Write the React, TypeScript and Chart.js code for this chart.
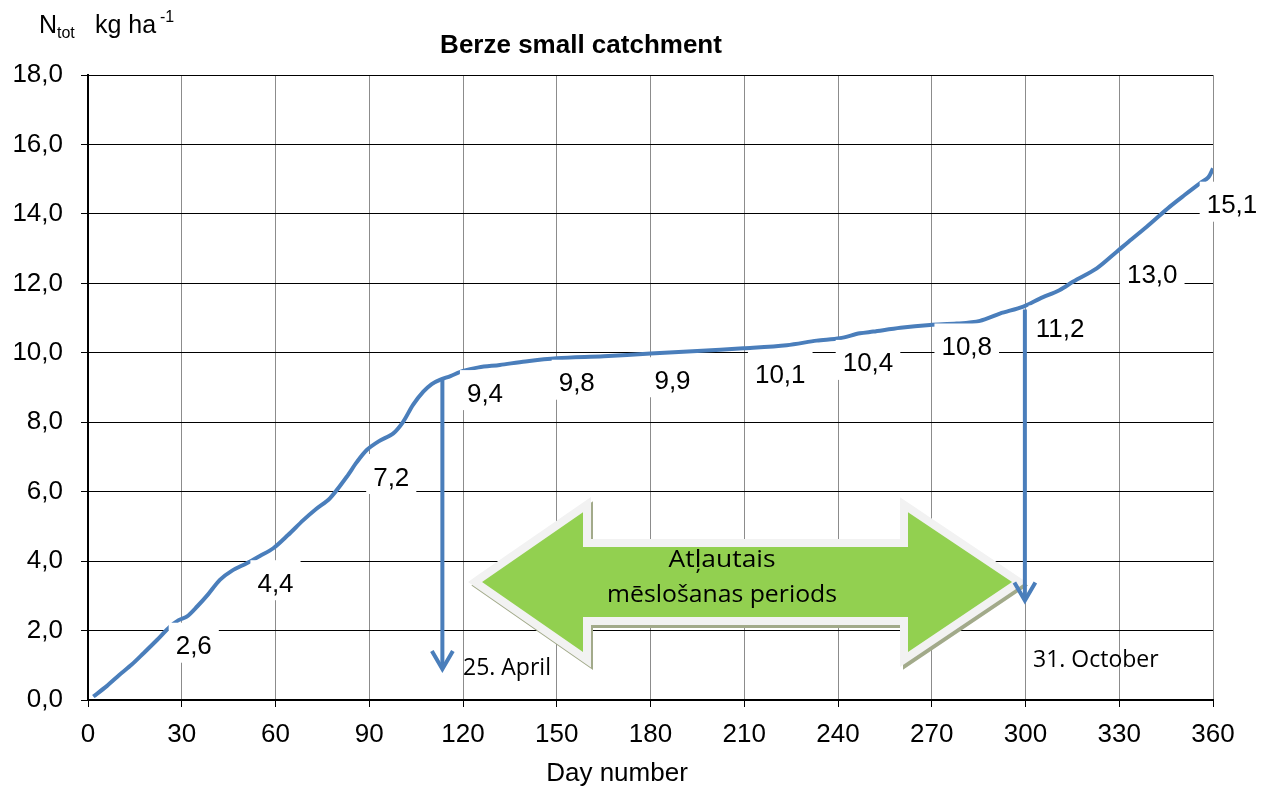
import React, { useEffect, useRef } from 'react';
import { Chart, registerables } from 'chart.js';

Chart.register(...registerables);

// ---- data ----
const DAYS = [1.7, 6, 10, 14, 17.7, 22, 26.2, 29, 31.6, 35, 38.5, 42.2, 46, 50.8, 55, 59.3, 64, 68.9, 73, 77.4, 82.8, 86, 89.2, 93, 97.7, 100.9, 104, 107.3, 110, 112.6, 116, 120, 125, 131.8, 140, 150, 165, 180, 195, 209.7, 223.6, 233.2, 240.6, 247, 251.3, 260, 269.4, 278, 285.4, 291.8, 299.3, 304.6, 311, 315.3, 322.8, 329.2, 333, 338.8, 346.2, 351, 355.8, 358.5, 360];
const NTOT = [0.10, 0.40, 0.72, 1.02, 1.34, 1.72, 2.11, 2.30, 2.40, 2.70, 3.05, 3.46, 3.72, 3.94, 4.15, 4.37, 4.75, 5.18, 5.50, 5.81, 6.43, 6.85, 7.20, 7.45, 7.68, 8.02, 8.50, 8.88, 9.10, 9.22, 9.33, 9.48, 9.58, 9.65, 9.75, 9.84, 9.90, 9.98, 10.05, 10.13, 10.22, 10.35, 10.42, 10.56, 10.61, 10.72, 10.80, 10.84, 10.92, 11.13, 11.33, 11.56, 11.81, 12.05, 12.43, 12.91, 13.20, 13.63, 14.21, 14.55, 14.88, 15.05, 15.31];

const LABEL_DAYS = [30, 60, 90, 120, 150, 180, 210, 240, 270, 300, 330, 360];
const LABEL_VALUES = [2.6, 4.4, 7.2, 9.4, 9.8, 9.9, 10.1, 10.4, 10.8, 11.2, 13.0, 15.1];

const X_MIN = 0, X_MAX = 360, X_STEP = 30;
const Y_MIN = 0, Y_MAX = 18, Y_STEP = 2;

const TITLE = 'Berze small catchment';
const X_TITLE = 'Day number';
const PERIOD_TEXT = ['Atļautais', 'mēslošanas periods'];
const START_TEXT = '25. April';
const END_TEXT = '31. October';

// arrows (day, from value, to value)
const START_DAY = 113.4, START_FROM = 9.22, START_TO = 0.78;
const END_DAY = 299.8, END_FROM = 11.25, END_TO = 2.75;
const START_TEXT_POS = [120, 0.72];
const END_TEXT_POS = [302.4, 0.96];

// green double arrow (days / values)
const PERIOD_TIP_L = 126.1, PERIOD_BASE_L = 158.4, PERIOD_BASE_R = 262.4, PERIOD_TIP_R = 295.7;
const PERIOD_MID = 3.4, PERIOD_HEAD_TOP = 5.41, PERIOD_HEAD_BOT = 1.38, PERIOD_SHAFT_TOP = 4.41, PERIOD_SHAFT_BOT = 2.39;

// layout of data labels (pixel offsets from the point)
const LABEL_DX = [12, 0, 22, 22, 20, 22, 36, 30, 35, 34.5, 33, 19];
const LABEL_DY = [35, 35, 26, 18.5, 22, 23, 24, 23, 20.5, 16.4, 25, 28];

const SANS = '"Liberation Sans", Arial, sans-serif';
const CAL = '"Open Sans", sans-serif';
const BLUE = '#4a7ebb';

const overlay = {
  id: 'overlay',
  afterDatasetsDraw(chart: any) {
    const ctx = chart.ctx as CanvasRenderingContext2D;
    const xs = chart.scales.x;
    const ys = chart.scales.y;
    const meta = chart.getDatasetMeta(1);

    // data labels
    ctx.save();
    ctx.font = `26px ${SANS}`;
    ctx.textAlign = 'center';
    ctx.textBaseline = 'alphabetic';
    meta.data.forEach((pt: any, i: number) => {
      const txt = LABEL_VALUES[i].toFixed(1).replace('.', ',');
      const px = pt.x + LABEL_DX[i];
      const py = pt.y + LABEL_DY[i];
      const w = ctx.measureText(txt).width;
      ctx.fillStyle = '#fff';
      ctx.fillRect(px - w / 2 - 7, py - 22, w + 14, 40);
      ctx.fillStyle = '#000';
      ctx.fillText(txt, px, py + 9.5);
    });
    ctx.restore();

    // green double arrow
    const xl = xs.getPixelForValue(PERIOD_TIP_L);
    const xbl = xs.getPixelForValue(PERIOD_BASE_L);
    const xbr = xs.getPixelForValue(PERIOD_BASE_R);
    const xr = xs.getPixelForValue(PERIOD_TIP_R);
    const ym = ys.getPixelForValue(PERIOD_MID);
    const yht = ys.getPixelForValue(PERIOD_HEAD_TOP);
    const yhb = ys.getPixelForValue(PERIOD_HEAD_BOT);
    const yst = ys.getPixelForValue(PERIOD_SHAFT_TOP);
    const ysb = ys.getPixelForValue(PERIOD_SHAFT_BOT);
    const path = () => {
      ctx.beginPath();
      ctx.moveTo(xl, ym);
      ctx.lineTo(xbl, yht);
      ctx.lineTo(xbl, yst);
      ctx.lineTo(xbr, yst);
      ctx.lineTo(xbr, yht);
      ctx.lineTo(xr, ym);
      ctx.lineTo(xbr, yhb);
      ctx.lineTo(xbr, ysb);
      ctx.lineTo(xbl, ysb);
      ctx.lineTo(xbl, yhb);
      ctx.closePath();
    };
    ctx.save();
    ctx.lineJoin = 'miter';
    ctx.miterLimit = 10;
    ctx.save();
    ctx.translate(2.5, 3.5);
    path();
    ctx.lineWidth = 15;
    ctx.strokeStyle = '#a2aa8a';
    ctx.stroke();
    ctx.fillStyle = '#a2aa8a';
    ctx.fill();
    ctx.restore();
    path();
    ctx.lineWidth = 16;
    ctx.strokeStyle = '#f2f2f2';
    ctx.stroke();
    ctx.fillStyle = '#92d050';
    ctx.fill();
    ctx.fillStyle = '#000';
    ctx.font = `23px ${CAL}`;
    ctx.textAlign = 'center';
    ctx.textBaseline = 'alphabetic';
    const cx = (xl + xr) / 2 - 25;
    const fit = (t: string, target: number, y: number) => {
      const w = ctx.measureText(t).width;
      ctx.save();
      ctx.translate(cx, y);
      ctx.scale(target / w, 1);
      ctx.fillText(t, 0, 0);
      ctx.restore();
    };
    fit(PERIOD_TEXT[0], 107, ym - 15);
    fit(PERIOD_TEXT[1], 230, ym + 20);
    ctx.restore();

    // blue arrows
    const drawArrow = (day: number, from: number, to: number) => {
      const x = xs.getPixelForValue(day);
      const y0 = ys.getPixelForValue(from);
      const y1 = ys.getPixelForValue(to);
      ctx.save();
      ctx.strokeStyle = BLUE;
      ctx.lineWidth = 4;
      ctx.lineJoin = 'miter';
      ctx.beginPath();
      ctx.moveTo(x, y0);
      ctx.lineTo(x, y1 - 5);
      ctx.stroke();
      ctx.beginPath();
      ctx.moveTo(x - 10.5, y1 - 22);
      ctx.lineTo(x, y1 - 4);
      ctx.lineTo(x + 10.5, y1 - 22);
      ctx.stroke();
      ctx.restore();
    };
    drawArrow(START_DAY, START_FROM, START_TO);
    drawArrow(END_DAY, END_FROM, END_TO);

    ctx.save();
    ctx.fillStyle = '#000';
    ctx.font = `23px ${CAL}`;
    ctx.textAlign = 'left';
    ctx.textBaseline = 'alphabetic';
    ctx.fillText(START_TEXT, xs.getPixelForValue(START_TEXT_POS[0]), ys.getPixelForValue(START_TEXT_POS[1]));
    ctx.fillText(END_TEXT, xs.getPixelForValue(END_TEXT_POS[0]), ys.getPixelForValue(END_TEXT_POS[1]));
    ctx.restore();
  },
  afterDraw(chart: any) {
    const ctx = chart.ctx as CanvasRenderingContext2D;
    ctx.save();
    ctx.fillStyle = '#000';
    ctx.textBaseline = 'alphabetic';
    // title
    ctx.font = `bold 26px ${SANS}`;
    ctx.textAlign = 'center';
    ctx.fillText(TITLE, 581, 53);
    // x title
    ctx.font = `26px ${SANS}`;
    ctx.fillText(X_TITLE, 617, 781);
    // y title
    ctx.textAlign = 'left';
    ctx.font = `25px ${SANS}`;
    ctx.fillText('N', 39, 33);
    ctx.font = `16px ${SANS}`;
    ctx.fillText('tot', 57, 38);
    ctx.font = `25px ${SANS}`;
    ctx.fillText('kg ha', 95, 33);
    ctx.font = `16px ${SANS}`;
    ctx.fillText('-1', 160, 22);
    ctx.restore();
  },
};

export default function App() {
  const ref = useRef<HTMLCanvasElement | null>(null);
  useEffect(() => {
    if (!ref.current) return;
    const tickFont = { family: SANS, size: 26 };
    const chart = new Chart(ref.current, {
      type: 'line',
      data: {
        datasets: [
          {
            data: DAYS.map((d, i) => ({ x: d, y: NTOT[i] })),
            borderColor: BLUE,
            borderWidth: 4,
            pointRadius: 0,
            tension: 0.3,
            fill: false,
          },
          {
            data: LABEL_DAYS.map((d, i) => ({ x: d, y: LABEL_VALUES[i] })),
            showLine: false,
            pointRadius: 0,
            borderColor: 'transparent',
            backgroundColor: 'transparent',
          },
        ],
      } as any,
      options: {
        animation: false,
        responsive: false,
        events: [],
        layout: { padding: { top: 75, right: 55, left: 0, bottom: 0 } },
        plugins: { legend: { display: false }, tooltip: { enabled: false }, title: { display: false } },
        scales: {
          x: {
            type: 'linear',
            min: X_MIN,
            max: X_MAX,
            ticks: { stepSize: X_STEP, font: tickFont, color: '#000', padding: 12, maxRotation: 0, autoSkip: false },
            grid: { color: '#8c8c8c', lineWidth: 1, tickColor: '#000', tickLength: 7 },
            border: { color: '#000', width: 2 },
            afterFit: (s: any) => { s.height = 89; },
          },
          y: {
            type: 'linear',
            min: Y_MIN,
            max: Y_MAX,
            ticks: {
              stepSize: Y_STEP,
              font: tickFont,
              color: '#000',
              padding: 18,
              callback: (v: any) => Number(v).toFixed(1).replace('.', ','),
            },
            grid: { color: '#000', lineWidth: 1, tickColor: '#000', tickLength: 7 },
            border: { color: '#000', width: 2 },
            afterFit: (s: any) => { s.width = 88; },
          },
        },
      } as any,
      plugins: [overlay],
    });
    return () => chart.destroy();
  }, []);
  return (
    <div style={{ position: 'absolute', left: 0, top: 0, width: 1268, height: 789, background: '#fff' }}>
      <canvas ref={ref} width={1268} height={789} style={{ display: 'block', width: 1268, height: 789 }} />
    </div>
  );
}
